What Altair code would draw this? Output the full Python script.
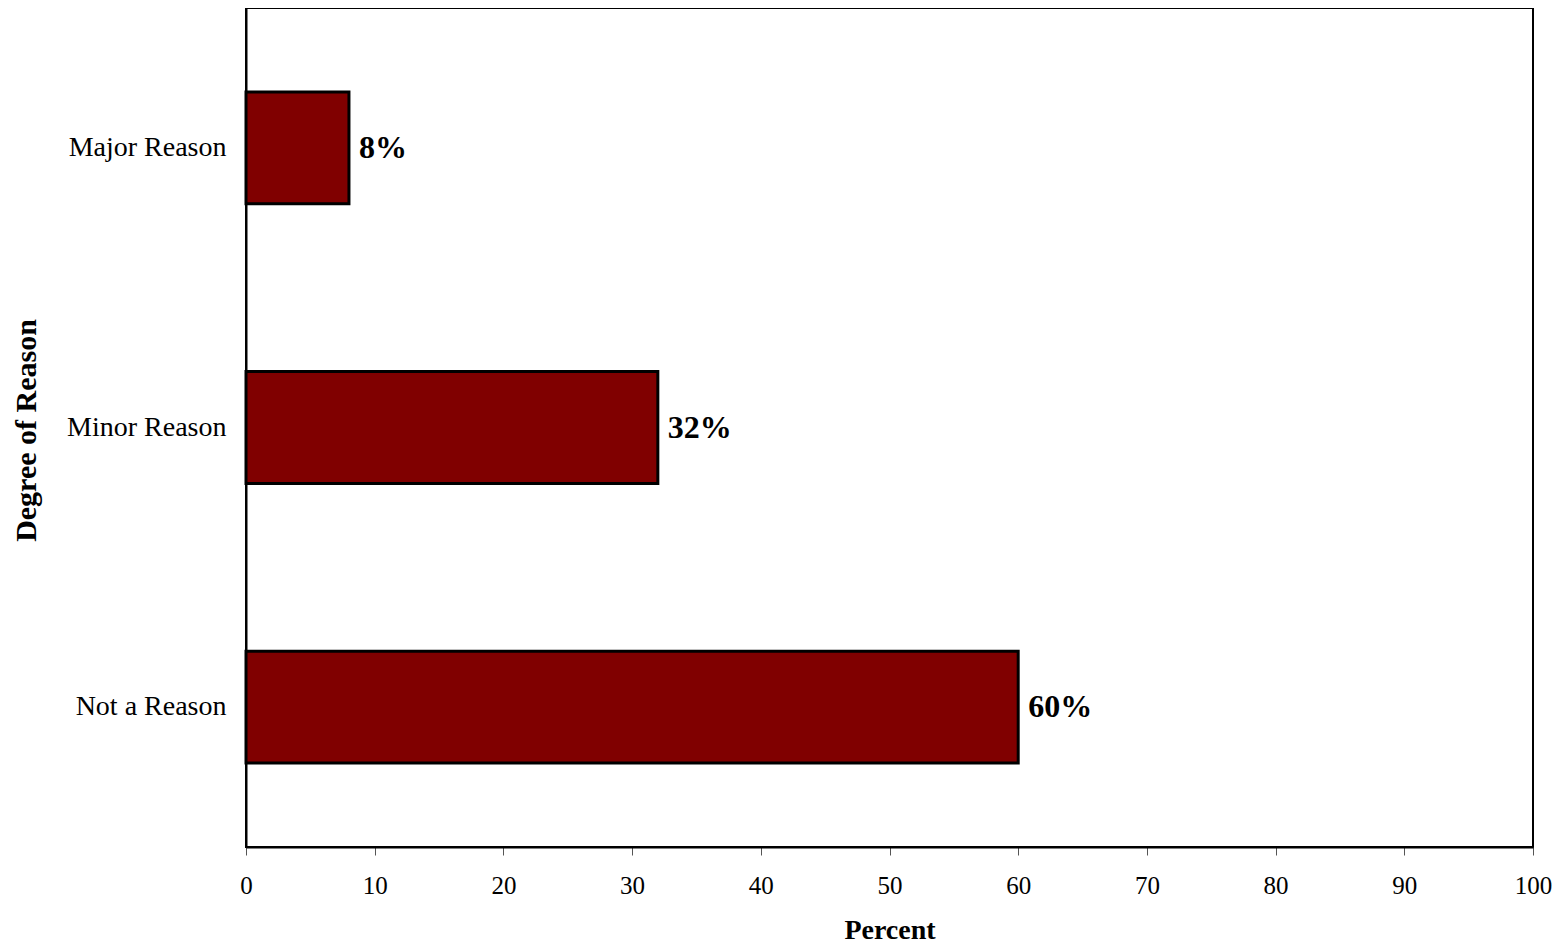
import altair as alt
import pandas as pd

categories = ["Major Reason", "Minor Reason", "Not a Reason"]
percents = [8, 32, 60]
labels = ["8%", "32%", "60%"]
x_ticks = [0, 10, 20, 30, 40, 50, 60, 70, 80, 90, 100]

df = pd.DataFrame({"reason": categories, "percent": percents, "label": labels})

FONT = "Liberation Serif"

y_enc = alt.Y(
    "reason:N",
    sort=categories,
    scale=alt.Scale(paddingInner=0.6, paddingOuter=0.3),
    axis=alt.Axis(
        title="Degree of Reason",
        ticks=False,
        tickSize=0,
        labelPadding=20,
        labelFontSize=28,
        labelFont=FONT,
        labelColor="black",
        titleFont=FONT,
        titleFontSize=30,
        titleFontWeight="bold",
        titleColor="black",
        titleAngle=270,
        titleX=-211,
        titleY=422,
        titleAlign="center",
        titleBaseline="alphabetic",
        domainColor="black",
        domainWidth=2,
        grid=False,
    ),
)

x_enc = alt.X(
    "percent:Q",
    scale=alt.Scale(domain=[0, 100], nice=False),
    axis=alt.Axis(
        values=x_ticks,
        title="Percent",
        tickSize=8,
        tickColor="#555555",
        tickWidth=1,
        labelFontSize=25,
        labelPadding=18,
        labelFont=FONT,
        labelColor="black",
        labelFlush=False,
        labelOverlap=False,
        titleFont=FONT,
        titleFontSize=28,
        titleFontWeight="bold",
        titleColor="black",
        titleY=91,
        titleBaseline="alphabetic",
        domainColor="black",
        domainWidth=2,
        grid=False,
    ),
)

base = alt.Chart(df)

bars = base.mark_bar(color="#800000", stroke="black", strokeWidth=3).encode(x=x_enc, y=y_enc)

texts = base.mark_text(
    align="left", baseline="middle", dx=10, fontSize=32, fontWeight="bold", font=FONT, color="black"
).encode(x="percent:Q", y=alt.Y("reason:N", sort=categories), text="label:N")

chart = (
    alt.layer(bars, texts)
    .properties(
        width=1287,
        height=839,
        autosize=alt.AutoSizeParams(type="none"),
        padding={"left": 238, "top": 0, "right": 21, "bottom": 97},
        background="white",
    )
    .configure_view(stroke="black", strokeWidth=2)
)

chart.save("out.html", embed_options={"renderer": "svg", "actions": False})
